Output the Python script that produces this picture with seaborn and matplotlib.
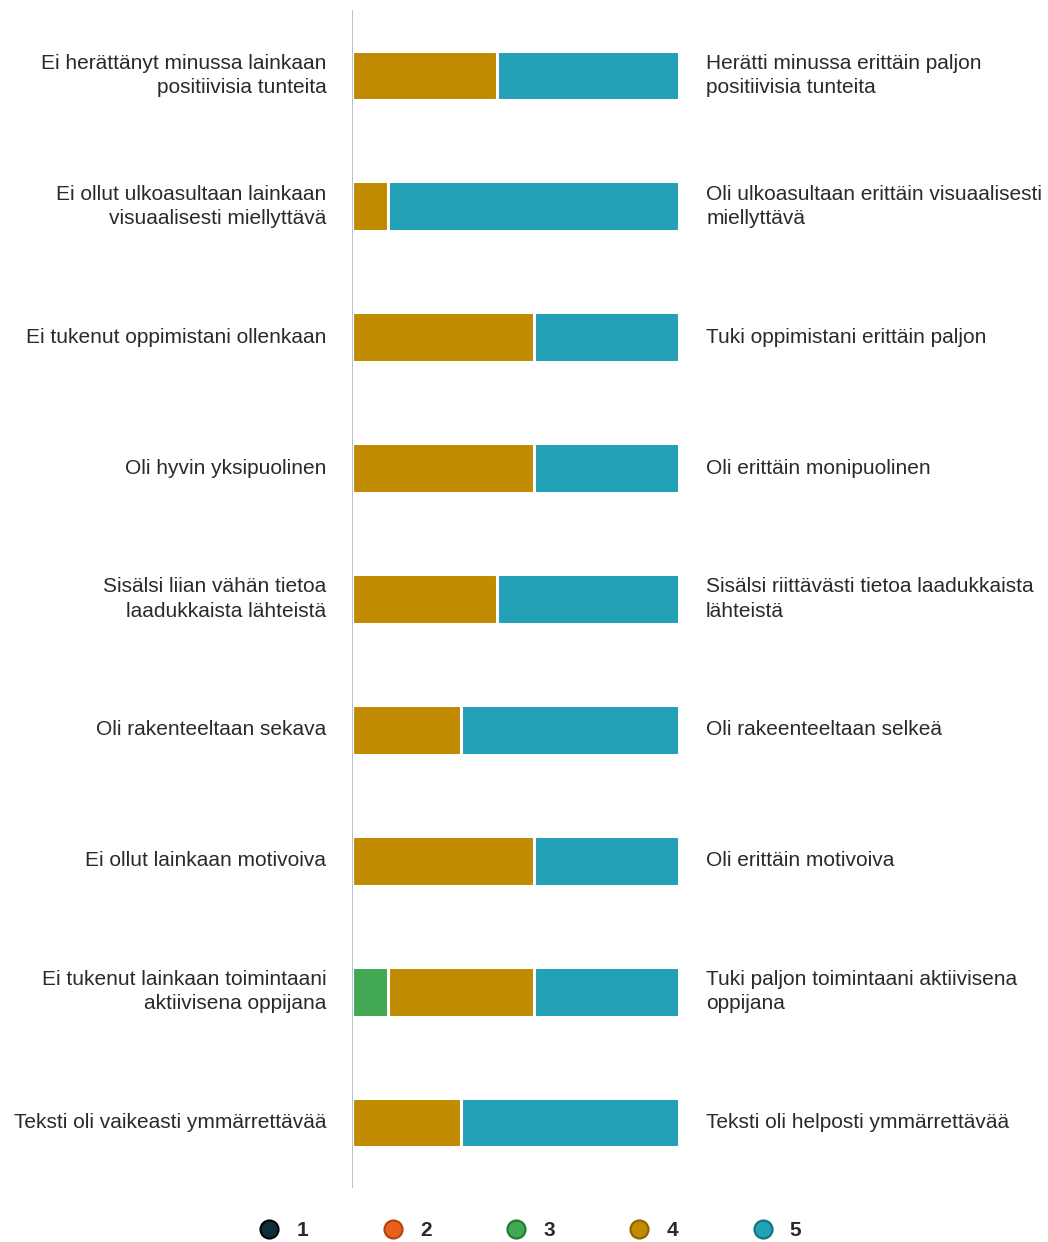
import numpy as np
import pandas as pd
import matplotlib
matplotlib.use("Agg")
import matplotlib.pyplot as plt
from matplotlib.lines import Line2D
import seaborn as sns

# -------------------------------
# Data (counts of answers 1..5, n = 9)
# -------------------------------
left_labels = [
    "Ei herättänyt minussa lainkaan\npositiivisia tunteita",
    "Ei ollut ulkoasultaan lainkaan\nvisuaalisesti miellyttävä",
    "Ei tukenut oppimistani ollenkaan",
    "Oli hyvin yksipuolinen",
    "Sisälsi liian vähän tietoa\nlaadukkaista lähteistä",
    "Oli rakenteeltaan sekava",
    "Ei ollut lainkaan motivoiva",
    "Ei tukenut lainkaan toimintaani\naktiivisena oppijana",
    "Teksti oli vaikeasti ymmärrettävää",
]
right_labels = [
    "Herätti minussa erittäin paljon\npositiivisia tunteita",
    "Oli ulkoasultaan erittäin visuaalisesti\nmiellyttävä",
    "Tuki oppimistani erittäin paljon",
    "Oli erittäin monipuolinen",
    "Sisälsi riittävästi tietoa laadukkaista\nlähteistä",
    "Oli rakeenteeltaan selkeä",
    "Oli erittäin motivoiva",
    "Tuki paljon toimintaani aktiivisena\noppijana",
    "Teksti oli helposti ymmärrettävää",
]
scores = ["1", "2", "3", "4", "5"]
score_1 = [0, 0, 0, 0, 0, 0, 0, 0, 0]
score_2 = [0, 0, 0, 0, 0, 0, 0, 0, 0]
score_3 = [0, 0, 0, 0, 0, 0, 0, 1, 0]
score_4 = [4, 1, 5, 5, 4, 3, 5, 4, 3]
score_5 = [5, 8, 4, 4, 5, 6, 4, 4, 6]

colors = ["#0f2d3a", "#e8601c", "#43a853", "#c08b00", "#22a0b6"]
edges = ["#000000", "#b8400c", "#1d7a30", "#8a6400", "#12707f"]

counts = pd.DataFrame(
    {"1": score_1, "2": score_2, "3": score_3, "4": score_4, "5": score_5},
    index=left_labels,
)
share = counts.div(counts.sum(axis=1), axis=0)
cum = share.cumsum(axis=1)

# -------------------------------
# Plot
# -------------------------------
sns.set_style("white")
plt.rcParams["font.family"] = ["Liberation Sans", "DejaVu Sans"]

fig = plt.figure(figsize=(10.48, 12.42), dpi=100)
ax = fig.add_axes([352 / 1048, 1 - 1188 / 1242, 327 / 1048, 1178 / 1242])

# stacked bars: draw cumulative layers from the back
for i in range(len(scores) - 1, -1, -1):
    df = pd.DataFrame({"item": left_labels, "value": cum[scores[i]].values})
    sns.barplot(data=df, x="value", y="item", orient="h", color=colors[i],
                width=0.38, edgecolor="white", linewidth=2.2, saturation=1,
                ax=ax)

ax.set_xlim(0, 1)
ax.set_ylim(8.5, -0.5)
ax.set_xlabel("")
ax.set_ylabel("")
ax.set_xticks([])
for s in ["top", "right", "bottom", "left"]:
    ax.spines[s].set_visible(False)
ax.axvline(0, color="#aab6cc", linewidth=1.2, zorder=10)

ax.tick_params(axis="y", length=0, pad=18.5, labelsize=15, labelcolor="#2a2a2a")
for t in ax.get_yticklabels():
    t.set_linespacing(1.35)
    t.set_va("center")

for i, txt in enumerate(right_labels):
    ax.annotate(txt, xy=(1, i), xycoords=("axes fraction", "data"),
                xytext=(19.5, 0), textcoords="offset points",
                ha="left", va="center", fontsize=15, color="#2a2a2a",
                linespacing=1.35)

handles = [Line2D([], [], marker="o", linestyle="none", markersize=13,
                  markerfacecolor=c, markeredgecolor=e, markeredgewidth=1.5)
           for c, e in zip(colors, edges)]
leg = fig.legend(handles, scores, loc="center", ncol=5, frameon=False,
                 bbox_to_anchor=(0.501, 1 - 1231 / 1242),
                 columnspacing=3.06, handletextpad=0.3, fontsize=15)
for t in leg.get_texts():
    t.set_fontweight("bold")
    t.set_color("#2a2a2a")

fig.savefig("out.png", dpi=100)
